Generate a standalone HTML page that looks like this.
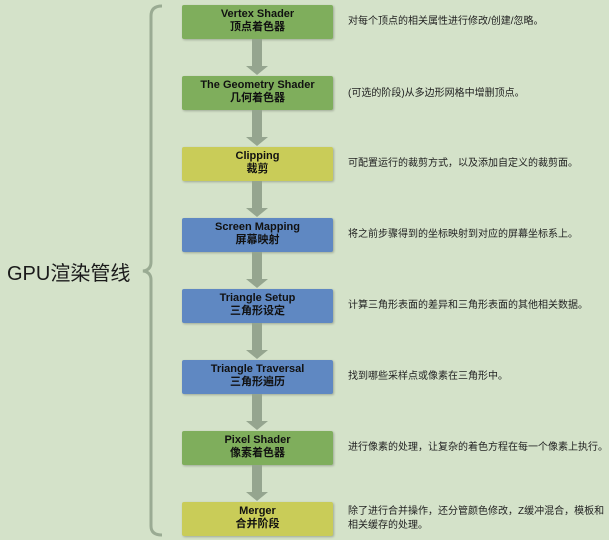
<!DOCTYPE html>
<html><head><meta charset="utf-8"><style>
body{margin:0;width:609px;height:540px;background:#d4e2c9;position:relative;overflow:hidden;font-family:"Liberation Sans","Noto Sans CJK SC",sans-serif}
.b{position:absolute;left:182px;width:151px;height:34px;border-radius:2px;box-shadow:1px 1px 2px rgba(0,0,0,.25);text-align:center;font-weight:bold;font-size:11px;line-height:13px;color:#111;padding-top:3px;box-sizing:border-box}
.g{background:#7fae5c}.y{background:#c9cc58}.bl{background:#5f88c2}
.t{position:absolute;left:348px;font-size:10px;color:#222;line-height:14px}
.a{position:absolute;left:252px;width:10px;background:#95a58f}
.h{position:absolute;left:246px;width:0;height:0;border-left:11px solid transparent;border-right:11px solid transparent;border-top:9px solid #95a58f}
</style></head><body>
<svg style="position:absolute;left:0;top:0" width="609" height="540"><path d="M162 6 Q151 6 151 16 L151 262 Q151 270 143 271 Q151 272 151 280 L151 526 Q151 535 162 535" fill="none" stroke="#9aab93" stroke-width="3"/></svg>
<div style="position:absolute;left:7px;top:257px;font-size:20px;color:#1a1a1a">GPU渲染管线</div>
<div class="b g" style="top:5px">Vertex Shader<br>顶点着色器</div>
<div class="b g" style="top:76px">The Geometry Shader<br>几何着色器</div>
<div class="b y" style="top:147px">Clipping<br>裁剪</div>
<div class="b bl" style="top:218px">Screen Mapping<br>屏幕映射</div>
<div class="b bl" style="top:289px">Triangle Setup<br>三角形设定</div>
<div class="b bl" style="top:360px">Triangle Traversal<br>三角形遍历</div>
<div class="b g" style="top:431px">Pixel Shader<br>像素着色器</div>
<div class="b y" style="top:502px">Merger<br>合并阶段</div>
<div class="a" style="top:39px;height:27px"></div><div class="h" style="top:66px"></div>
<div class="a" style="top:110px;height:27px"></div><div class="h" style="top:137px"></div>
<div class="a" style="top:181px;height:27px"></div><div class="h" style="top:208px"></div>
<div class="a" style="top:252px;height:27px"></div><div class="h" style="top:279px"></div>
<div class="a" style="top:323px;height:27px"></div><div class="h" style="top:350px"></div>
<div class="a" style="top:394px;height:27px"></div><div class="h" style="top:421px"></div>
<div class="a" style="top:465px;height:27px"></div><div class="h" style="top:492px"></div>
<div class="t" style="top:15px">对每个顶点的相关属性进行修改/创建/忽略。</div>
<div class="t" style="top:87px">(可选的阶段)从多边形网格中增删顶点。</div>
<div class="t" style="top:157px">可配置运行的裁剪方式，以及添加自定义的裁剪面。</div>
<div class="t" style="top:228px">将之前步骤得到的坐标映射到对应的屏幕坐标系上。</div>
<div class="t" style="top:299px">计算三角形表面的差异和三角形表面的其他相关数据。</div>
<div class="t" style="top:370px">找到哪些采样点或像素在三角形中。</div>
<div class="t" style="top:441px">进行像素的处理，让复杂的着色方程在每一个像素上执行。</div>
<div class="t" style="top:505px">除了进行合并操作，还分管颜色修改，Z缓冲混合，模板和<br>相关缓存的处理。</div>
</body></html>
